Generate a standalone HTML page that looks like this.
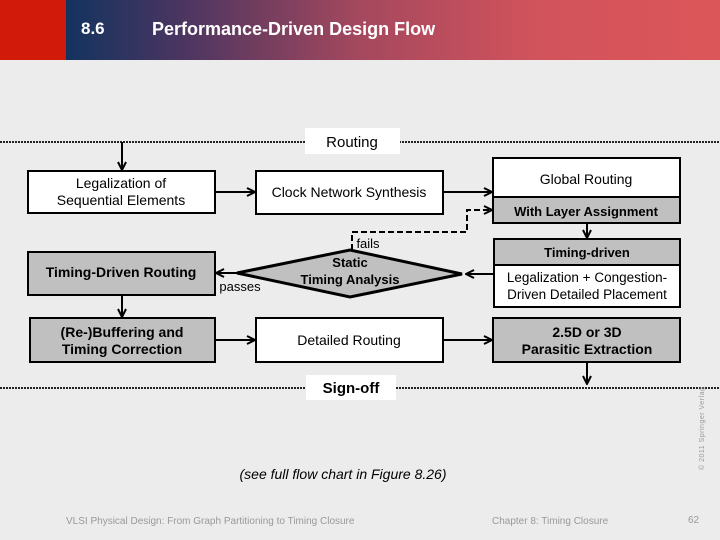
<!DOCTYPE html>
<html><head><style>
body{margin:0;width:720px;height:540px;background:#ececec;position:relative;overflow:hidden;font-family:"Liberation Sans",sans-serif}
.hdr{position:absolute;left:0;top:0;width:720px;height:60px;background:linear-gradient(90deg,#12335f 9%,#4a3560 25%,#a5485e 50%,#d2535c 75%,#db5658)}
.red{position:absolute;left:0;top:0;width:66px;height:60px;background:#d11a0a}
.t{position:absolute;white-space:nowrap}
</style></head><body>
<div class="hdr"></div><div class="red"></div>
<div class="t" style="left:81px;top:19px;color:#fff;font-size:17px;font-weight:bold">8.6</div>
<div class="t" style="left:152px;top:19px;color:#fff;font-size:18px;font-weight:bold">Performance-Driven Design Flow</div>
<svg width="720" height="540" style="position:absolute;left:0;top:0" font-family="Liberation Sans, sans-serif">
<defs><marker id="a" markerWidth="10" markerHeight="10" refX="9" refY="5" orient="auto" markerUnits="userSpaceOnUse"><path d="M1,1 L9,5 L1,9" fill="none" stroke="#000" stroke-width="2"/></marker></defs>
<line x1="0" y1="142" x2="720" y2="142" stroke="#222" stroke-width="2" stroke-dasharray="2,1"/>
<line x1="0" y1="388" x2="720" y2="388" stroke="#222" stroke-width="2" stroke-dasharray="2,1"/>
<rect x="305" y="128" width="95" height="26" fill="#fff"/>
<text x="352" y="147" font-size="15" text-anchor="middle">Routing</text>
<rect x="306" y="375" width="90" height="25" fill="#fff"/>
<text x="351" y="393" font-size="15" font-weight="bold" text-anchor="middle">Sign-off</text>
<g stroke="#000" stroke-width="2">
<rect x="28" y="171" width="187" height="42" fill="#fff"/>
<rect x="256" y="171" width="187" height="43" fill="#fff"/>
<rect x="28" y="252" width="187" height="43" fill="#c0c0c0"/>
<rect x="30" y="318" width="185" height="44" fill="#c0c0c0"/>
<rect x="256" y="318" width="187" height="44" fill="#fff"/>
<rect x="493" y="158" width="187" height="39" fill="#fff"/>
<rect x="493" y="197" width="187" height="26" fill="#c0c0c0"/>
<rect x="494" y="239" width="186" height="26" fill="#c0c0c0"/>
<rect x="494" y="265" width="186" height="42" fill="#fff"/>
<rect x="493" y="318" width="187" height="44" fill="#c0c0c0"/>
<polygon points="237,273 350,250 462,274 350,297" fill="#c0c0c0" stroke-width="3"/>
<line x1="122" y1="142" x2="122" y2="170" marker-end="url(#a)"/>
<line x1="215" y1="192" x2="255" y2="192" marker-end="url(#a)"/>
<line x1="443" y1="192" x2="492" y2="192" marker-end="url(#a)"/>
<line x1="587" y1="223" x2="587" y2="238" marker-end="url(#a)"/>
<line x1="494" y1="274" x2="466" y2="274" marker-end="url(#a)"/>
<line x1="237" y1="273" x2="216" y2="273" marker-end="url(#a)"/>
<line x1="122" y1="295" x2="122" y2="317" marker-end="url(#a)"/>
<line x1="215" y1="340" x2="255" y2="340" marker-end="url(#a)"/>
<line x1="443" y1="340" x2="492" y2="340" marker-end="url(#a)"/>
<line x1="587" y1="362" x2="587" y2="384" marker-end="url(#a)"/>
<polyline points="352,250 352,232 467,232 467,210 492,210" fill="none" stroke-dasharray="6,3" marker-end="url(#a)"/>
</g>
<g font-size="14" text-anchor="middle">
<text x="121" y="188">Legalization of</text><text x="121" y="205">Sequential Elements</text>
<text x="349" y="197">Clock Network Synthesis</text>
<text x="121" y="277" font-weight="bold">Timing-Driven Routing</text>
<text x="122" y="337" font-weight="bold">(Re-)Buffering and</text><text x="122" y="354" font-weight="bold">Timing Correction</text>
<text x="349" y="345">Detailed Routing</text>
<text x="586" y="184">Global Routing</text>
<text x="586" y="216" font-weight="bold" font-size="13">With Layer Assignment</text>
<text x="587" y="257" font-weight="bold" font-size="13">Timing-driven</text>
<text x="587" y="282" font-size="13.5">Legalization + Congestion-</text><text x="587" y="299" font-size="13.5">Driven Detailed Placement</text>
<text x="587" y="337" font-weight="bold">2.5D or 3D</text><text x="587" y="354" font-weight="bold">Parasitic Extraction</text>
<text x="350" y="267" font-weight="bold" font-size="13">Static</text><text x="350" y="284" font-weight="bold" font-size="13">Timing Analysis</text>
<text x="240" y="291" font-size="13">passes</text>
<text x="368" y="248" font-size="13">fails</text>
<text x="343" y="479" font-style="italic">(see full flow chart in Figure 8.26)</text>
</g>
<g font-size="10" fill="#999">
<text x="66" y="524">VLSI Physical Design: From Graph Partitioning to Timing Closure</text>
<text x="492" y="524">Chapter 8: Timing Closure</text>
<text x="688" y="523">62</text>
<text transform="translate(704,470) rotate(-90)" font-size="7" letter-spacing="0.5">© 2011 Springer Verlag</text>
</g>
</svg>
</body></html>
